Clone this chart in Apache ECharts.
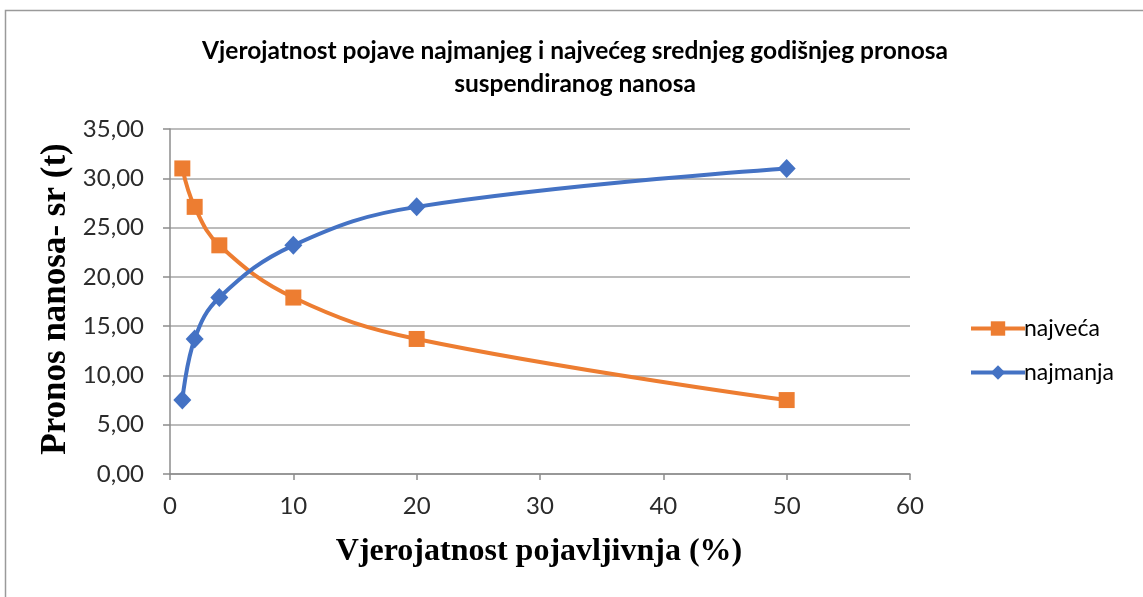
<!DOCTYPE html>
<html>
<head>
<meta charset="utf-8">
<title>Vjerojatnost pojave pronosa nanosa</title>
<script src="https://cdn.jsdelivr.net/npm/echarts@6/dist/echarts.min.js"></script>
<style>
  html, body { margin: 0; padding: 0; background: #ffffff; }
  #chart { width: 1143px; height: 597px; }
</style>
</head>
<body>
<div id="chart"></div>
<script>
// Vjerojatnost pojavljivanja (%)
const probability = [1, 2, 4, 10, 20, 50];
// Srednji godišnji pronos suspendiranog nanosa (t)
const najveca = [31.0, 27.1, 23.2, 17.9, 13.7, 7.5];
const najmanja = [7.5, 13.7, 17.9, 23.2, 27.1, 31.0];
const seriesNames = ['najveća', 'najmanja'];
const titleLines = [
  'Vjerojatnost pojave najmanjeg i najvećeg srednjeg godišnjeg pronosa',
  'suspendiranog nanosa'
];
const xAxisName = 'Vjerojatnost pojavljivnja (%)';
const yAxisName = 'Pronos nanosa- sr (t)';

const pairs = (xs, ys) => xs.map((x, i) => [x, ys[i]]);

const sansFont = 'Lato, "Open Sans", sans-serif';
const serifFont = '"Liberation Serif", "DejaVu Serif", serif';
const labelColor = '#2b2b2b';

const chart = echarts.init(document.getElementById('chart'), null, { renderer: 'canvas' });

chart.setOption({
  animation: false,
  backgroundColor: '#ffffff',
  title: {
    text: titleLines.join('\n'),
    left: 570,
    top: 30,
    textAlign: 'center',
    textStyle: {
      fontFamily: sansFont,
      fontWeight: 'bold',
      fontSize: 24.5,
      lineHeight: 33,
      color: '#000000'
    }
  },
  graphic: [
    {
      type: 'rect',
      shape: { x: 5.5, y: 10.5, width: 1300, height: 700 },
      style: { fill: 'none', stroke: '#9a9a9a', lineWidth: 1.5 },
      silent: true
    },
    {
      type: 'text',
      x: 539,
      y: 552,
      style: {
        text: xAxisName,
        fontFamily: serifFont,
        fontWeight: 'bold',
        fontSize: 32,
        fill: '#000000',
        align: 'center',
        verticalAlign: 'middle'
      }
    },
    {
      type: 'text',
      x: 56,
      y: 299,
      rotation: Math.PI / 2,
      style: {
        text: yAxisName,
        fontFamily: serifFont,
        fontWeight: 'bold',
        fontSize: 35,
        fill: '#000000',
        align: 'center',
        verticalAlign: 'middle'
      }
    }
  ],
  legend: {
    orient: 'vertical',
    left: 964,
    top: 312,
    itemWidth: 54,
    itemHeight: 18,
    itemGap: 21,
    itemStyle: { borderWidth: 0 },
    lineStyle: { width: 4 },
    textStyle: {
      fontFamily: sansFont,
      fontSize: 23,
      color: '#000000',
      padding: [0, 0, 0, -6]
    },
    data: seriesNames
  },
  grid: {
    left: 170,
    right: 233,
    top: 129,
    bottom: 123,
    containLabel: false
  },
  xAxis: {
    type: 'value',
    min: 0,
    max: 60,
    interval: 10,
    axisLine: { show: true, lineStyle: { color: '#8c8c8c', width: 1.5 } },
    axisTick: { show: true, inside: false, length: 6, lineStyle: { color: '#8c8c8c', width: 1.5 } },
    axisLabel: {
      margin: 20,
      fontFamily: sansFont,
      fontSize: 24,
      color: labelColor
    },
    splitLine: { show: false }
  },
  yAxis: {
    type: 'value',
    min: 0,
    max: 35,
    interval: 5,
    axisLine: { show: true, lineStyle: { color: '#8c8c8c', width: 1.5 } },
    axisTick: { show: true, inside: false, length: 7, lineStyle: { color: '#8c8c8c', width: 1.5 } },
    axisLabel: {
      margin: 26,
      fontFamily: sansFont,
      fontSize: 24,
      color: labelColor,
      formatter: v => v.toFixed(2).replace('.', ',')
    },
    splitLine: { show: true, lineStyle: { color: '#a6a6a6', width: 1.5 } }
  },
  series: [
    {
      name: seriesNames[0],
      type: 'line',
      data: pairs(probability, najveca),
      smooth: 0.4,
      symbol: 'rect',
      symbolSize: 16,
      lineStyle: { color: '#ED7D31', width: 4 },
      itemStyle: { color: '#ED7D31' },
      z: 3
    },
    {
      name: seriesNames[1],
      type: 'line',
      data: pairs(probability, najmanja),
      smooth: 0.4,
      symbol: 'diamond',
      symbolSize: [18, 19],
      lineStyle: { color: '#4472C4', width: 4 },
      itemStyle: { color: '#4472C4' },
      z: 4
    }
  ]
});
</script>
</body>
</html>
